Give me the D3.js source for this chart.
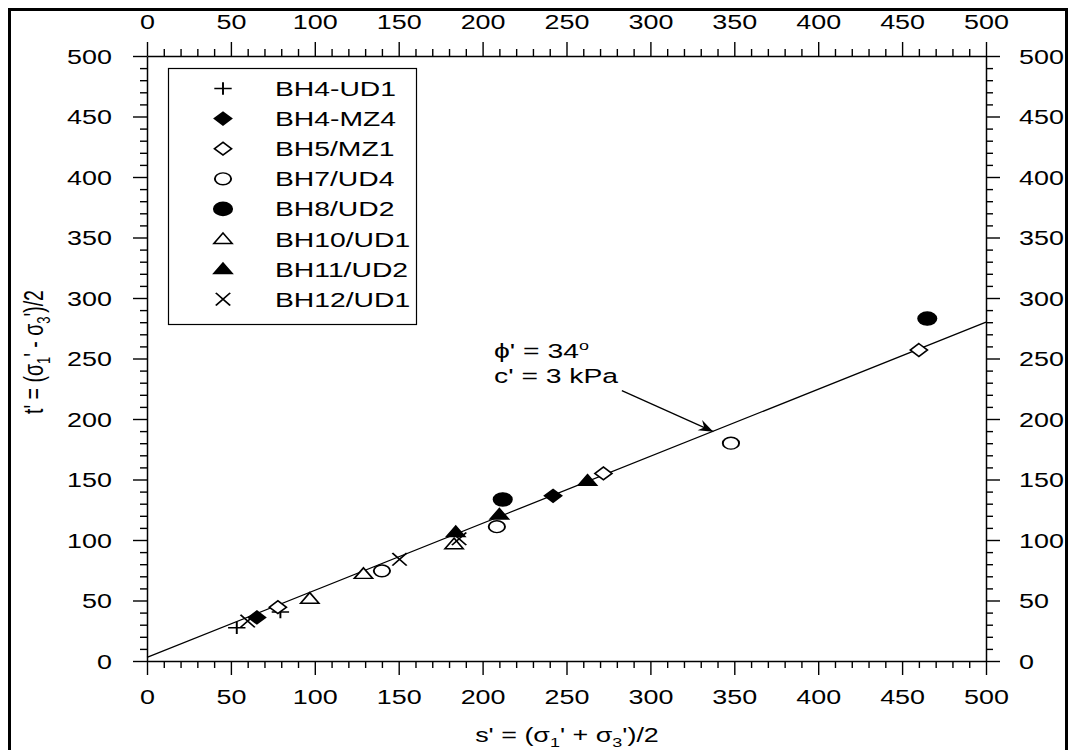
<!DOCTYPE html>
<html>
<head>
<meta charset="utf-8">
<script src="https://cdn.jsdelivr.net/npm/d3@7"></script>
<style>
  body { margin: 0; background: #fff; }
  svg { display: block; font-family: "Liberation Sans", Arial, sans-serif; }
</style>
</head>
<body>
<svg id="chart" width="1073" height="750"></svg>
<script>
// stress path data, s' and t' in kPa
const seriesNames = ['BH4-UD1', 'BH4-MZ4', 'BH5/MZ1', 'BH7/UD4', 'BH8/UD2', 'BH10/UD1', 'BH11/UD2', 'BH12/UD1'];
const seriesSymbols = ['plus', 'diamondFilled', 'diamond', 'circle', 'circleFilled', 'triangle', 'triangleFilled', 'cross'];

const bh4ud1S = [53.5, 79.5],        bh4ud1T = [27.5, 40.5];
const bh4mz4S = [65.5, 242],         bh4mz4T = [36, 136.5];
const bh5mz1S = [78, 272, 460],      bh5mz1T = [44.5, 155, 257];
const bh7ud4S = [140, 208.5, 348],   bh7ud4T = [74.5, 111, 180];
const bh8ud2S = [212, 465],          bh8ud2T = [133.5, 283];
const bh10ud1S = [97, 129, 183],     bh10ud1T = [51.5, 72, 96.5];
const bh11ud2S = [184, 210, 262.5],  bh11ud2T = [106.5, 121, 149];
const bh12ud1S = [60, 150.5, 186],   bh12ud1T = [33, 84, 101];

const seriesS = [bh4ud1S, bh4mz4S, bh5mz1S, bh7ud4S, bh8ud2S, bh10ud1S, bh11ud2S, bh12ud1S];
const seriesT = [bh4ud1T, bh4mz4T, bh5mz1T, bh7ud4T, bh8ud2T, bh10ud1T, bh11ud2T, bh12ud1T];

// failure envelope (phi' = 34 deg, c' = 3 kPa)
const envS = [0, 500], envT = [3, 280];
// annotation arrow, from text to line
const arrowS = [283, 337.5], arrowT = [223.4, 189.5];
const noteLines = ["\u03d5' = 34", "c' = 3 kPa"];

const majorTicks = d3.range(0, 501, 50);
const minorTicks = d3.range(0, 501, 10).filter(v => v % 50 !== 0);

const SX = 1.38, TICK_FONT = 19.5, LEGEND_FONT = 20.5;

const svg = d3.select('#chart');
const x = d3.scaleLinear().domain([0, 500]).range([147, 986]);
const y = d3.scaleLinear().domain([0, 500]).range([661, 56]);

// outer frame
svg.append('rect').attr('x', 9.5).attr('y', 9.5).attr('width', 1057).attr('height', 770)
	.attr('fill', 'none').attr('stroke', '#000').attr('stroke-width', 3);

// stretched text helper (the original artwork is wide)
function wideText(parent, px, py, anchor, size) {
	return parent.append('g').attr('transform', `translate(${px},${py}) scale(${SX},1)`)
		.append('text').attr('text-anchor', anchor).attr('font-size', size).attr('fill', '#000');
}

// axes
function drawAxis(axisFn, transform, labelFn) {
	const scale = (axisFn === d3.axisBottom || axisFn === d3.axisTop) ? x : y;
	const gMinor = svg.append('g').attr('transform', transform)
		.call(axisFn(scale).tickValues(minorTicks).tickSize(7).tickSizeOuter(0).tickFormat(''));
	gMinor.select('.domain').remove();
	const g = svg.append('g').attr('transform', transform)
		.call(axisFn(scale).tickValues(majorTicks).tickSize(14).tickSizeOuter(0).tickFormat(''));
	svg.selectAll('.tick line').attr('stroke-width', 1.4);
	g.select('.domain').attr('stroke-width', 1.5);
	g.selectAll('.tick').each(function(d) { labelFn(d3.select(this), d); });
}

drawAxis(d3.axisBottom, 'translate(0,661)', (t, d) => wideText(t, 0, 43, 'middle', TICK_FONT).text(d));
drawAxis(d3.axisTop, 'translate(0,56)', (t, d) => wideText(t, 0, -27, 'middle', TICK_FONT).text(d));
drawAxis(d3.axisLeft, 'translate(147,0)', (t, d) => wideText(t, -35, 7, 'end', TICK_FONT).text(d));
drawAxis(d3.axisRight, 'translate(986,0)', (t, d) => wideText(t, 33, 7, 'start', TICK_FONT).text(d));

// axis titles
const xt = wideText(svg, 567, 742, 'middle', TICK_FONT);
xt.append('tspan').text("s' = (\u03c3");
xt.append('tspan').attr('dy', 5).attr('font-size', 13).text('1');
xt.append('tspan').attr('dy', -5).text("' + \u03c3");
xt.append('tspan').attr('dy', 5).attr('font-size', 13).text('3');
xt.append('tspan').attr('dy', -5).text("')/2");

const yt = svg.append('g').attr('transform', `translate(43,352) scale(${SX},1) rotate(-90)`)
	.append('text').attr('text-anchor', 'middle').attr('font-size', TICK_FONT);
yt.append('tspan').text("t' = (\u03c3");
yt.append('tspan').attr('dy', 5).attr('font-size', 13).text('1');
yt.append('tspan').attr('dy', -5).text("' - \u03c3");
yt.append('tspan').attr('dy', 5).attr('font-size', 13).text('3');
yt.append('tspan').attr('dy', -5).text("')/2");

// envelope
svg.append('path').datum(d3.zip(envS, envT))
	.attr('d', d3.line().x(d => x(d[0])).y(d => y(d[1])))
	.attr('fill', 'none').attr('stroke', '#000').attr('stroke-width', 1.3);

// annotation
svg.append('defs').append('marker').attr('id', 'arrow')
	.attr('viewBox', '-16 -7 18 14').attr('refX', 0).attr('refY', 0)
	.attr('markerWidth', 18).attr('markerHeight', 14).attr('markerUnits', 'userSpaceOnUse')
	.attr('orient', 'auto')
	.append('path').attr('d', 'M0,0 L-15,-6 L-10,0 L-15,5 Z').attr('fill', '#000');
svg.append('path').datum(d3.zip(arrowS, arrowT))
	.attr('d', d3.line().x(d => x(d[0])).y(d => y(d[1])))
	.attr('stroke', '#000').attr('stroke-width', 1.3).attr('marker-end', 'url(#arrow)');
const n1 = wideText(svg, 494, 358, 'start', LEGEND_FONT).text(noteLines[0]);
n1.append('tspan').attr('dy', -8).attr('font-size', 13).text('o');
wideText(svg, 494, 383, 'start', LEGEND_FONT).text(noteLines[1]);

// marker shapes, local coordinates before the wide stretch
function markerPath(type) {
	const p = d3.path();
	if (type === 'plus') { p.moveTo(-6.3, 0); p.lineTo(6.3, 0); p.moveTo(0, -6.3); p.lineTo(0, 6.3); }
	else if (type === 'cross') { p.moveTo(-5.2, -6.3); p.lineTo(5.2, 6.3); p.moveTo(-5.2, 6.3); p.lineTo(5.2, -6.3); }
	else if (type.startsWith('diamond')) { p.moveTo(0, -6.4); p.lineTo(6.2, 0); p.lineTo(0, 6.4); p.lineTo(-6.2, 0); p.closePath(); }
	else if (type === 'circle') { p.arc(0, 0, 5.9, 0, 2 * Math.PI); }
	else if (type === 'circleFilled') { p.arc(0, 0, 6.6, 0, 2 * Math.PI); }
	else if (type.startsWith('triangle')) { p.moveTo(0, -6); p.lineTo(6.6, 4.5); p.lineTo(-6.6, 4.5); p.closePath(); }
	return p.toString();
}
function styleMarker(sel, type) {
	const filled = type.endsWith('Filled');
	sel.attr('d', markerPath(type))
		.attr('fill', filled ? '#000' : (type === 'plus' || type === 'cross' ? 'none' : '#fff'))
		.attr('stroke', '#000').attr('stroke-width', 1.4);
}

const pts = svg.append('g');
seriesNames.forEach((name, i) => {
	const data = d3.zip(seriesS[i], seriesT[i]);
	pts.selectAll('path.s' + i).data(data).enter().append('path')
		.attr('class', 's' + i)
		.attr('transform', d => `translate(${x(d[0])},${y(d[1])}) scale(${SX},1)`)
		.call(styleMarker, seriesSymbols[i]);
});

// legend
const lg = svg.append('g');
lg.append('rect').attr('x', 168.5).attr('y', 68.5).attr('width', 248).attr('height', 256)
	.attr('fill', '#fff').attr('stroke', '#000').attr('stroke-width', 1.2);
seriesNames.forEach((name, i) => {
	const cy = 88.5 + i * 30.1;
	lg.append('path').attr('transform', `translate(223,${cy}) scale(${SX},1)`).call(styleMarker, seriesSymbols[i]);
	wideText(lg, 275, cy + 7.5, 'start', LEGEND_FONT).text(name);
});
</script>
</body>
</html>
